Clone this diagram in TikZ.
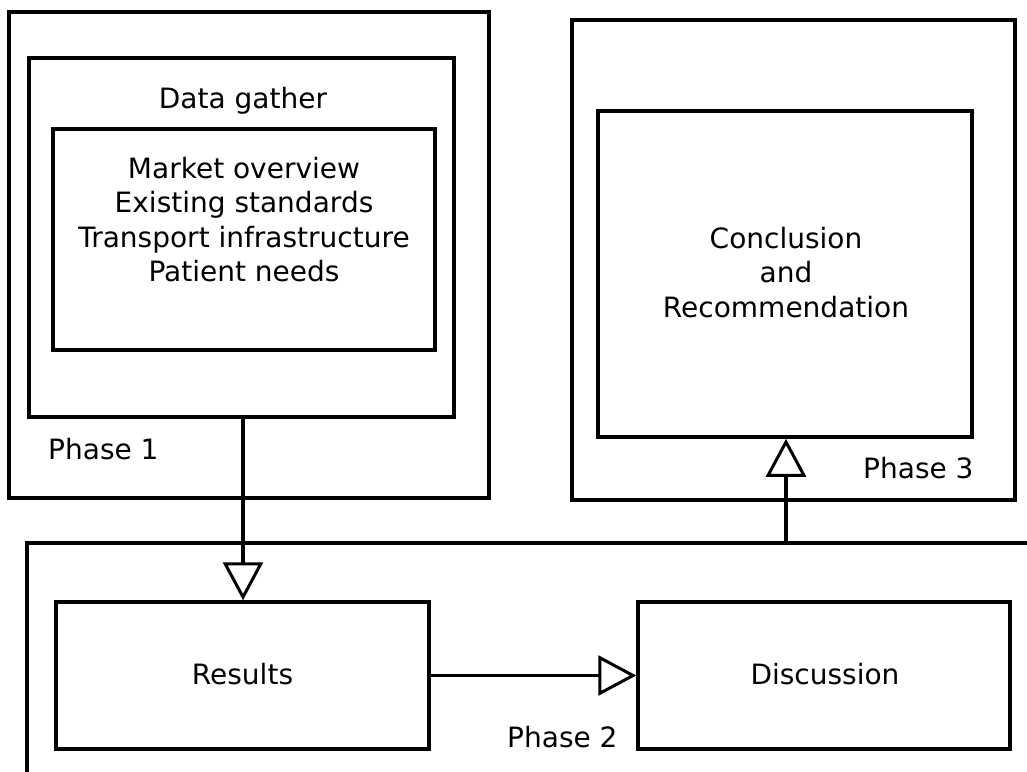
\documentclass[tikz,border=0pt]{standalone}
\usepackage{fontspec}
\setmainfont{DejaVu Sans}
\usetikzlibrary{arrows.meta}
\begin{document}
\begin{tikzpicture}[x=1pt,y=-1pt,
  box/.style={draw, line width=3.5pt, rectangle, inner sep=0pt},
  lbl/.style={font=\fontsize{28}{34.5}\selectfont, inner sep=0pt, align=center},
  flow/.style={line width=3.5pt, -{Triangle[open, fill=white, length=38pt, width=40pt, line width=3pt]}}]
\useasboundingbox (0,0) rectangle (1027,771);
% Phase 1
\node[box, minimum width=480pt, minimum height=486pt] (p1) at (249,255) {};
\node[box, minimum width=425pt, minimum height=359pt] (dg) at (241.5,237.5) {};
\node[box, minimum width=382pt, minimum height=221pt] (list) at (244,239.5) {};
\node[lbl, anchor=base] (dgt) at (243,108) {Data gather};
\node[lbl, anchor=base] (listt) at (244,281.5) {Market overview\\Existing standards\\Transport infrastructure\\Patient needs};
\node[lbl, anchor=base west] (p1t) at (48,459) {Phase 1};
% Phase 3
\node[box, minimum width=443pt, minimum height=480pt] (p3) at (793.5,260) {};
\node[box, minimum width=374pt, minimum height=326pt] (concl) at (785,274) {};
\node[lbl, anchor=base] (conclt) at (786,317) {Conclusion\\and\\Recommendation};
\node[lbl, anchor=base west] (p3t) at (863,478) {Phase 3};
% Phase 2
\node[box, minimum width=1100pt, minimum height=300pt] (p2) at (577,693) {};
\node[box, minimum width=373pt, minimum height=147pt] (results) at (242.5,675.5) {};
\node[box, minimum width=372pt, minimum height=147pt] (disc) at (824,675.5) {};
\node[lbl, anchor=base] (resultst) at (242.5,684) {Results};
\node[lbl, anchor=base] (disct) at (825,684) {Discussion};
\node[lbl, anchor=base west] (p2t) at (507,747) {Phase 2};
% connectors
\draw[flow] (dg.south -| 243,0) -- (results.north -| 243,0);
\draw[flow] (p2.north -| 786,0) -- (concl.south -| 786,0);
\draw[flow] (results.east) -- (disc.west);
\end{tikzpicture}
\end{document}
